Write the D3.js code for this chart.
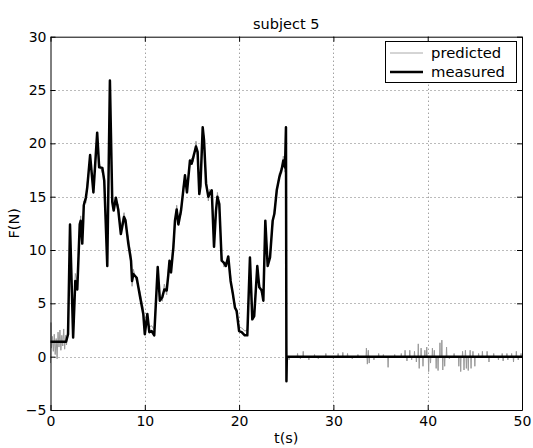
<!DOCTYPE html>
<html><head><meta charset="utf-8">
<script src="https://cdn.jsdelivr.net/npm/d3@7"></script>
<style>body{margin:0;background:#fff}svg{display:block}text{font-family:"DejaVu Sans",sans-serif}</style>
</head><body><svg id="c" width="533" height="448"></svg>
<script>
const title = "subject 5";
const xLabel = "t(s)";
const yLabel = "F(N)";
const xTicks = [0,10,20,30,40,50];
const yTicks = [-5,0,5,10,15,20,25,30];
const seriesNames = ["predicted","measured"];

const measT = [0,1.65,1.86,2.07,2.4,2.63,2.84,3.1,3.2,3.37,3.47,3.53,3.75,3.9,4.2,4.55,4.95,5.16,5.5,5.7,6.02,6.3,6.55,6.7,6.93,7.18,7.46,7.8,7.95,8.25,8.54,8.65,8.78,9.14,9.5,9.84,10.0,10.27,10.48,10.73,11.0,11.37,11.6,11.86,12.07,12.32,12.5,12.62,12.78,13.03,13.2,13.38,13.56,13.84,14.08,14.26,14.47,14.79,14.97,15.14,15.43,15.6,15.78,15.9,16.14,16.28,16.5,16.74,16.9,17.1,17.34,17.55,17.7,17.9,18.15,18.4,18.6,18.85,19.1,19.32,19.56,19.74,20.0,20.27,20.6,20.87,21.15,21.4,21.6,21.93,22.14,22.4,22.57,22.78,23.03,23.28,23.56,23.74,23.99,24.26,24.52,24.69,24.87,24.97,25.02,25.06,50];
const measF = [1.4,1.4,2.1,12.4,1.8,7.1,6.3,12.4,12.75,10.6,12.75,14.2,14.9,15.9,18.9,15.4,21.0,17.75,17.7,16.5,8.5,25.9,14.5,13.7,14.9,13.8,11.5,13.1,12.8,10.6,9.0,7.1,7.75,7.4,5.6,4.0,2.1,4.0,2.3,2.4,2.0,8.4,5.25,5.6,6.3,6.2,7.75,9.0,7.9,10.25,12.75,13.8,12.4,13.7,15.6,17.0,15.4,18.4,18.1,18.7,19.7,19.2,15.25,16.0,21.5,20.3,16.2,15.0,15.3,15.6,10.3,13.7,15.0,14.3,9.0,8.8,8.5,9.4,7.1,6.0,4.6,4.3,2.4,2.3,2.0,2.0,9.3,3.5,3.8,8.5,6.5,6.2,5.25,12.75,8.5,9.3,12.75,13.4,15.6,16.8,17.6,18.4,17.75,21.5,-2.3,0,0];

const predHeadT = [0,0.05,0.1,0.2,0.3,0.4,0.5,0.6,0.7,0.8,0.9,1.0,1.1,1.2,1.3,1.4,1.5,1.6,1.7];
const predHeadF = [-0.6,3.2,0.8,1.9,0.5,2.1,0.2,1.7,-0.2,2.3,0.9,2.5,0.6,2.0,1.0,2.6,0.7,2.0,1.1];
const predBodyF = [2.8,11.8,2.6,7.8,7.0,11.9,13.2,11.2,13.3,14.6,14.4,16.3,18.4,15.9,20.4,18.2,17.2,16.9,9.2,25.2,15.0,14.2,14.4,14.3,12.0,13.5,12.3,11.2,9.5,6.6,8.2,7.0,6.1,4.5,2.6,3.6,2.8,2.9,2.5,7.9,5.7,5.2,6.8,5.8,8.2,8.6,8.4,10.7,12.3,14.2,12.9,13.3,16.0,16.6,15.9,18.0,18.6,18.3,20.2,18.8,15.8,16.4,21.0,20.7,16.7,14.6,15.7,15.2,10.8,13.3,15.4,13.9,9.5,8.4,8.9,9.0,7.6,5.6,5.0,3.9,2.8,2.7,2.4,2.5,8.8,3.9,4.2,8.0,6.9,5.8,5.7,12.3,8.9,9.7,12.3,13.8,15.2,17.2,17.2,18.8,17.3,21.0];
const predDropT = [25.02,25.06];
const predDropF = [1.2,0];
const predTailT = [25.3,26.2,26.5,26.8,27.4,28.0,28.4,29.2,30.0,30.5,31.0,31.5,32.0,32.6,33.5,33.6,33.7,33.8,34.3,34.8,35.3,35.8,36.5,37.2,37.6,37.8,38.1,38.3,38.6,38.8,39.0,39.1,39.3,39.5,39.7,39.9,40.1,40.3,40.5,40.7,40.9,41.1,41.3,41.5,41.6,41.8,42.0,42.3,42.8,43.3,43.5,43.7,43.85,44.0,44.1,44.3,44.5,44.6,44.8,45.0,45.4,45.8,46.3,46.5,47.0,47.5,47.9,48.0,48.4,48.5,48.9,49.1,49.4,49.6,49.9];
const predTailF = [-0.3,0.3,-0.2,0.5,-0.3,0.2,-0.2,0.3,-0.2,0.3,0.4,0.3,-0.2,0.2,0.8,-0.7,0.6,-0.6,-0.3,0.3,0.2,-1.0,0.2,0.3,0.6,-0.4,0.6,-0.3,0.5,-0.5,1.2,-1.1,0.8,-0.9,0.6,0.9,-1.4,-0.6,0.8,0.6,-1.1,-1.3,1.3,1.55,-1.25,-0.9,0.9,-0.2,0.3,-0.9,-1.4,0.5,-1.25,0.6,-1.1,-1.3,0.6,-1.1,0.5,-0.9,0.3,0.5,0.5,-0.5,0.3,-0.3,0.3,-0.4,0.3,-0.3,0.3,-0.5,0.5,-0.3,0.3];

const L = 50.5, R = 522, T = 36.7, B = 410;
const FONT = "'DejaVu Sans',sans-serif";
const svg = d3.select("#c");
const x = d3.scaleLinear().domain([0,50]).range([L,R]);
const y = d3.scaleLinear().domain([-5,30]).range([B,T]);

// grid
const g = svg.append("g");
g.selectAll(".gx").data(xTicks.slice(1,-1)).join("line")
  .attr("x1",d=>Math.round(x(d))+0.5).attr("x2",d=>Math.round(x(d))+0.5).attr("y1",T).attr("y2",B)
  .attr("stroke","#777").attr("stroke-width",1).attr("stroke-dasharray","1,3");
g.selectAll(".gy").data(yTicks.slice(1,-1)).join("line")
  .attr("y1",d=>Math.round(y(d))+0.5).attr("y2",d=>Math.round(y(d))+0.5).attr("x1",L).attr("x2",R)
  .attr("stroke","#777").attr("stroke-width",1).attr("stroke-dasharray","1,3");

// predicted
const predPts = [];
predHeadT.forEach((t,i)=>predPts.push([t,predHeadF[i]]));
measT.slice(2,104).forEach((t,i)=>predPts.push([t,predBodyF[i]]));
predDropT.forEach((t,i)=>predPts.push([t,predDropF[i]]));
predTailT.forEach((t,i)=>{predPts.push([t-0.04,0]);predPts.push([t,predTailF[i]]);predPts.push([t+0.04,0]);});
predPts.push([50,0]);
const line = d3.line().x(d=>x(d[0])).y(d=>y(d[1]));
svg.append("path").attr("d",line(predPts)).attr("fill","none").attr("stroke","#999").attr("stroke-width",1);

// measured
const measPts = measT.map((t,i)=>[t,measF[i]]);
svg.append("path").attr("d",line(measPts)).attr("fill","none").attr("stroke","#000").attr("stroke-width",2.5).attr("stroke-linejoin","round");

// axes
const ax = (gen, tr) => svg.append("g").attr("transform",tr).call(gen)
  .call(s=>s.select(".domain").attr("stroke","#000"))
  .call(s=>s.selectAll(".tick line").attr("stroke","#000"))
  .call(s=>s.selectAll("text").attr("fill","#000").style("font-size","14px").style("font-family",FONT));
ax(d3.axisBottom(x).tickValues(xTicks).tickSize(-5).tickSizeOuter(0).tickPadding(6), `translate(0,${B})`);
ax(d3.axisTop(x).tickValues(xTicks).tickSize(-5).tickSizeOuter(0).tickFormat(""), `translate(0,${T})`);
ax(d3.axisLeft(y).tickValues(yTicks).tickSize(-5).tickSizeOuter(0).tickPadding(4), `translate(${L},0)`);
ax(d3.axisRight(y).tickValues(yTicks).tickSize(-5).tickSizeOuter(0).tickFormat(""), `translate(${R},0)`);

// labels
svg.append("text").attr("x",(L+R)/2).attr("y",29).attr("text-anchor","middle").style("font-size","14.5px").text(title);
svg.append("text").attr("x",(L+R)/2).attr("y",443).attr("text-anchor","middle").style("font-size","14.5px").text(xLabel);
svg.append("text").attr("transform",`translate(19,${(T+B)/2}) rotate(-90)`).attr("text-anchor","middle").style("font-size","14.5px").text(yLabel);

// legend
const lg = svg.append("g");
lg.append("rect").attr("x",385.5).attr("y",41.5).attr("width",131).attr("height",41).attr("fill","#fff").attr("stroke","#000");
const cols = ["#aaa","#000"], widths=[1,2.5];
seriesNames.forEach((n,i)=>{
  const yy = 53 + i*19;
  lg.append("line").attr("x1",390).attr("x2",423).attr("y1",yy).attr("y2",yy).attr("stroke",cols[i]).attr("stroke-width",widths[i]);
  lg.append("text").attr("x",431).attr("y",yy+5).style("font-size","14.8px").text(n);
});
</script></body></html>
